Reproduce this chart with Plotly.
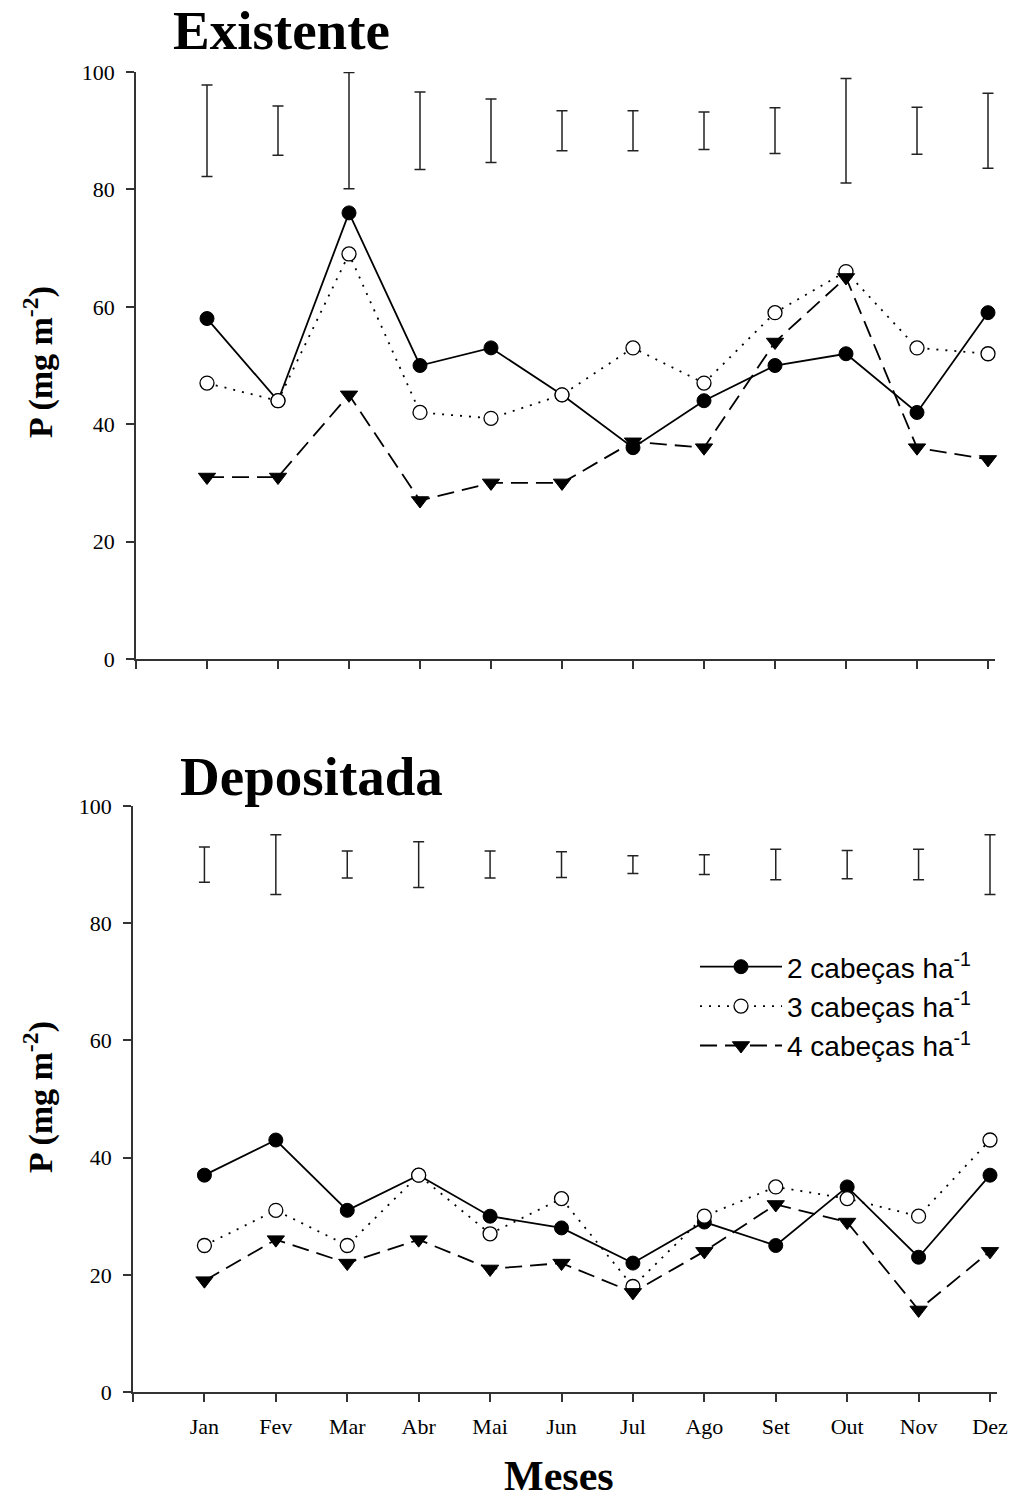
import plotly.graph_objects as go

months = ["Jan", "Fev", "Mar", "Abr", "Mai", "Jun", "Jul", "Ago", "Set", "Out", "Nov", "Dez"]
series_names = ["2 cabeças ha<sup>-1</sup>", "3 cabeças ha<sup>-1</sup>", "4 cabeças ha<sup>-1</sup>"]

# Existente (top panel)
exist_2 = [58, 44, 76, 50, 53, 45, 36, 44, 50, 52, 42, 59]
exist_3 = [47, 44, 69, 42, 41, 45, 53, 47, 59, 66, 53, 52]
exist_4 = [31, 31, 45, 27, 30, 30, 37, 36, 54, 65, 36, 34]
exist_bar_center = [90, 90, 90, 90, 90, 90, 90, 90, 90, 90, 90, 90]
exist_bar_half = [7.8, 4.2, 9.9, 6.6, 5.4, 3.4, 3.4, 3.2, 3.9, 8.9, 4.0, 6.4]

# Depositada (bottom panel)
dep_2 = [37, 43, 31, 37, 30, 28, 22, 29, 25, 35, 23, 37]
dep_3 = [25, 31, 25, 37, 27, 33, 18, 30, 35, 33, 30, 43]
dep_4 = [19, 26, 22, 26, 21, 22, 17, 24, 32, 29, 14, 24]
dep_bar_center = [90, 90, 90, 90, 90, 90, 90, 90, 90, 90, 90, 90]
dep_bar_half = [3.0, 5.1, 2.3, 3.9, 2.3, 2.2, 1.5, 1.7, 2.6, 2.4, 2.6, 5.1]

y_ticks = [0, 20, 40, 60, 80, 100]

x = list(range(1, len(months) + 1))
tick_pos = list(range(0, len(months) + 1))

W, H = 1010, 1502
X_MAX = 12.1  # slight room so the last error-bar cap is not clipped


def px_x(p):
    return p / W


def px_y(p):
    return (H - p) / H


def x_domain(left_px, right_tick_px):
    span = (right_tick_px - left_px) / 12.0
    return [px_x(left_px), px_x(left_px + span * X_MAX)]


styles = [
    dict(line=dict(color="black", width=1.8, dash="solid"),
         marker=dict(symbol="circle", size=14, color="black", line=dict(color="black", width=1))),
    dict(line=dict(color="black", width=1.8, dash="2px,7px"),
         marker=dict(symbol="circle", size=14, color="white", line=dict(color="black", width=1.3))),
    dict(line=dict(color="black", width=1.8, dash="17px,8px"),
         marker=dict(symbol="triangle-down", size=15, color="black", line=dict(color="black", width=1))),
]

fig = go.Figure()

panels = [
    ("x", "y", [exist_2, exist_3, exist_4], exist_bar_center, exist_bar_half, False),
    ("x2", "y2", [dep_2, dep_3, dep_4], dep_bar_center, dep_bar_half, True),
]

for xa, ya, data, bc, bh, show in panels:
    fig.add_trace(go.Scatter(
        x=x, y=bc, xaxis=xa, yaxis=ya, mode="markers",
        marker=dict(size=1, color="rgba(0,0,0,0)"),
        error_y=dict(type="data", array=bh, symmetric=True, color="#222", thickness=1.5, width=5.5),
        showlegend=False, hoverinfo="skip", cliponaxis=False))
    for i, (vals, name) in enumerate(zip(data, series_names)):
        fig.add_trace(go.Scatter(
            x=x, y=vals, xaxis=xa, yaxis=ya, mode="lines+markers", name=name,
            line=styles[i]["line"], marker=styles[i]["marker"],
            showlegend=show, cliponaxis=False))

serif = "Liberation Serif, Times New Roman, serif"
axis_common = dict(showline=True, linecolor="#333", linewidth=1.5, ticks="outside",
                   tickcolor="#333", tickwidth=1.5, ticklen=8, showgrid=False, zeroline=False,
                   automargin=False,
                   tickfont=dict(family=serif, size=22, color="black"))

fig.update_layout(
    width=W, height=H,
    margin=dict(l=0, r=0, t=0, b=0, autoexpand=False),
    paper_bgcolor="white", plot_bgcolor="white",
    xaxis=dict(domain=x_domain(136, 988), range=[0, X_MAX], anchor="y",
               tickmode="array", tickvals=tick_pos, ticktext=[""] * len(tick_pos), **axis_common),
    yaxis=dict(domain=[px_y(659), px_y(72)], range=[0, 100], anchor="x",
               tickmode="array", tickvals=y_ticks, ticklabelstandoff=7, **axis_common),
    xaxis2=dict(domain=x_domain(133, 990), range=[0, X_MAX], anchor="y2",
                tickmode="array", tickvals=tick_pos, ticktext=[""] + months,
                ticklabelstandoff=6, **axis_common),
    yaxis2=dict(domain=[px_y(1392), px_y(806)], range=[0, 100], anchor="x2",
                tickmode="array", tickvals=y_ticks, ticklabelstandoff=7, **axis_common),
    legend=dict(x=px_x(695), y=px_y(942), xanchor="left", yanchor="top",
                font=dict(family="Liberation Sans, Arial, sans-serif", size=28, color="black"),
                bgcolor="rgba(0,0,0,0)", tracegroupgap=0,
                itemwidth=82),
    showlegend=True,
)

annots = [
    dict(text="<b>Existente</b>", x=px_x(281), y=px_y(31), font=dict(size=55)),
    dict(text="<b>Depositada</b>", x=px_x(311), y=px_y(776), font=dict(size=55)),
    dict(text="<b>Meses</b>", x=px_x(559), y=px_y(1476), font=dict(size=42)),
    dict(text="<b>P (mg m<sup>-2</sup>)</b>", x=px_x(38), y=px_y(362), font=dict(size=34), textangle=-90),
    dict(text="<b>P (mg m<sup>-2</sup>)</b>", x=px_x(38), y=px_y(1097), font=dict(size=34), textangle=-90),
]
for a in annots:
    a["font"].update(family=serif, color="black")
    fig.add_annotation(xref="paper", yref="paper", xanchor="center", yanchor="middle",
                       showarrow=False, **a)

fig.write_html("out.html")
